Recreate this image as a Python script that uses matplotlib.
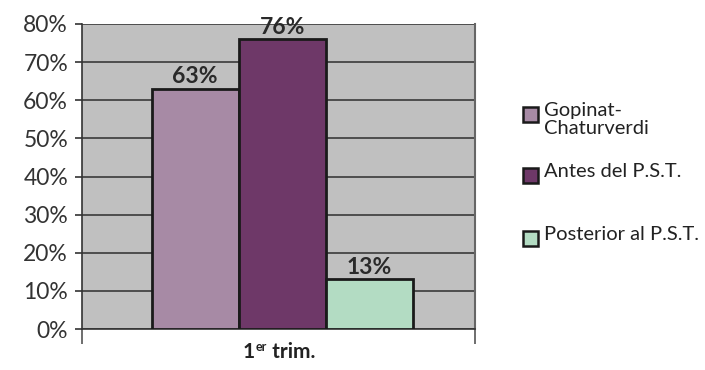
import numpy as np
import matplotlib.pyplot as plt
from matplotlib.patches import Rectangle

plt.rcParams['font.family'] = ['Lato', 'DejaVu Sans']

# datos del primer trimestre
series = ['Gopinat-\nChaturverdi', 'Antes del P.S.T.', 'Posterior al P.S.T.']
valores = [63, 76, 13]
colores = ['#a78aa5', '#6e3868', '#b3dcc3']
categoria = ('1', 'er', ' trim.')

W, H = 705, 370
fig = plt.figure(figsize=(W / 100, H / 100), dpi=100)
ax = fig.add_axes([82 / W, 1 - 329 / H, (475 - 82) / W, (329 - 24) / H])
ax.set_facecolor('#c0c0c0')

ancho = 0.222
pos = (np.arange(len(valores)) - 1) * ancho + 0.01
bars = ax.bar(pos, valores, width=ancho, color=colores, edgecolor='#1a1a1a',
              linewidth=2, zorder=3)
for b, v in zip(bars, valores):
    ax.text(b.get_x() + b.get_width() / 2, v + 0.4, f'{v}%', ha='center',
            va='bottom', fontsize=16.5, fontweight='bold', color='#2a2a2a',
            clip_on=False, zorder=4)

ax.set_xlim(-0.5, 0.5)
ax.set_ylim(0, 80)
ax.set_yticks(range(0, 81, 10))
ax.set_yticklabels([f'{t}%' for t in range(0, 81, 10)], fontsize=16.5, color='#333333')
ax.yaxis.grid(True, color='#3a3a3a', linewidth=1.2, zorder=0)
ax.set_xticks([-0.5, 0.5])
ax.set_xticklabels([])
ax.tick_params(axis='x', length=11, width=1.2, color='#555555')
ax.tick_params(axis='y', length=5, width=1.2, color='#333333', pad=5)
ax.set_axisbelow(True)

ax.spines['top'].set_visible(False)
ax.spines['left'].set_color('#333333')
ax.spines['left'].set_linewidth(1.2)
ax.spines['bottom'].set_color('#333333')
ax.spines['bottom'].set_linewidth(1.2)
ax.spines['right'].set_color('#666666')
ax.spines['right'].set_linewidth(1.5)

# etiqueta de categoría "1er trim." con superíndice
r = fig.canvas.get_renderer()
partes = [fig.text(0, 1 - 352 / H, categoria[0], fontsize=15, fontweight='bold',
                   va='center', color='#222222'),
          fig.text(0, 1 - 347 / H, categoria[1], fontsize=9, fontweight='bold',
                   va='center', color='#222222'),
          fig.text(0, 1 - 352 / H, categoria[2], fontsize=15, fontweight='bold',
                   va='center', color='#222222')]
anchos = [p.get_window_extent(r).width for p in partes]
x = 279 - sum(anchos) / 2
for p, w in zip(partes, anchos):
    p.set_x(x / W)
    x += w

# leyenda a la derecha
tops = [107, 168, 231]
for nombre, c, y in zip(series, colores, tops):
    fig.patches.append(Rectangle((523 / W, 1 - (y + 15) / H), 15 / W, 15 / H,
                                 transform=fig.transFigure, facecolor=c,
                                 edgecolor='#1a1a1a', linewidth=1.8))
    fig.text(544 / W, 1 - (y - 5) / H, nombre, ha='left', va='top',
             fontsize=14.5, color='#222222', linespacing=1.1)

fig.savefig('out.png', dpi=100)
